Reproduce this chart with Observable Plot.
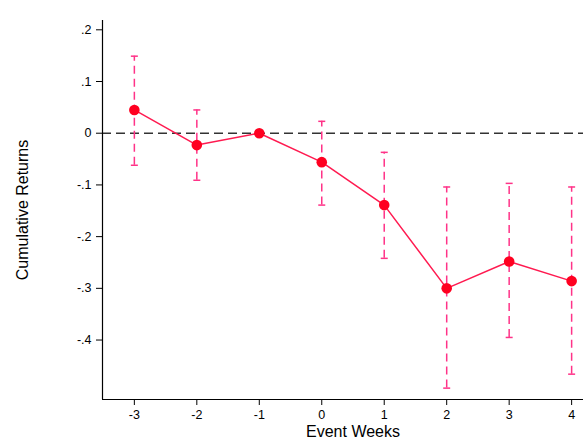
<!DOCTYPE html>
<html>
<head>
<meta charset="utf-8">
<script src="https://cdn.jsdelivr.net/npm/d3@7"></script>
<script src="https://cdn.jsdelivr.net/npm/@observablehq/plot@0.6"></script>
<style>
  body { margin: 0; background: #fff; }
  #chart svg { font-family: "Liberation Sans", Arial, sans-serif; display: block; }
</style>
</head>
<body>
<div id="chart"></div>
<script>
const weeks = [-3, -2, -1, 0, 1, 2, 3, 4];
const returns = [0.045, -0.023, 0.0, -0.056, -0.139, -0.300, -0.248, -0.286];
const upper = [0.149, 0.045, null, 0.023, -0.037, -0.104, -0.097, -0.104];
const lower = [-0.062, -0.091, null, -0.139, -0.242, -0.493, -0.395, -0.466];
const yTicks = [0.2, 0.1, 0, -0.1, -0.2, -0.3, -0.4];
const xDomain = [-3.51, 4.19];
const yDomain = [-0.515, 0.218];

const data = weeks.map((w, i) => ({week: w, ret: returns[i], hi: upper[i], lo: lower[i]}));
const ci = data.filter(d => d.hi !== null);
const capHalf = 0.056;
const fmt = d => d === 0 ? "0" : d3.format(".1f")(d).replace("\u2212", "-").replace("0.", ".");

const pink = "#ff3388";
const lineColor = "#ff1a50";
const dotColor = "#ff0020";

const chart = Plot.plot({
  width: 585,
  height: 445,
  marginLeft: 102,
  marginRight: 2,
  marginTop: 20,
  marginBottom: 46,
  style: {fontFamily: "Liberation Sans, Arial, sans-serif", fontSize: "12.5px", color: "#000"},
  x: {domain: xDomain, ticks: weeks, tickFormat: d => String(d), label: "Event Weeks", labelAnchor: "center", labelOffset: 37, tickSize: 6, tickPadding: 5},
  y: {domain: yDomain, ticks: yTicks, tickFormat: fmt, label: "Cumulative Returns", labelAnchor: "center", labelOffset: 86, tickSize: 6, tickPadding: 5},
  marks: [
    Plot.ruleY([0], {stroke: "#333", strokeWidth: 1.6, strokeDasharray: "9,5"}),
    Plot.ruleX(ci, {x: "week", y1: "lo", y2: "hi", stroke: pink, strokeWidth: 1.5, strokeDasharray: "8,5"}),
    Plot.link(ci, {x1: d => d.week - capHalf, x2: d => d.week + capHalf, y1: "hi", y2: "hi", stroke: pink, strokeWidth: 1.5}),
    Plot.link(ci, {x1: d => d.week - capHalf, x2: d => d.week + capHalf, y1: "lo", y2: "lo", stroke: pink, strokeWidth: 1.5}),
    Plot.line(data, {x: "week", y: "ret", stroke: lineColor, strokeWidth: 1.5}),
    Plot.dot(data, {x: "week", y: "ret", r: 5.3, fill: dotColor, stroke: "none"}),
    Plot.ruleX([xDomain[0]], {stroke: "#000", strokeWidth: 1.2}),
    Plot.ruleY([yDomain[0]], {stroke: "#000", strokeWidth: 1.2})
  ]
});
chart.querySelectorAll('[aria-label="x-axis label"] text, [aria-label="y-axis label"] text').forEach(t => {
  t.style.fontSize = "16px";
  t.textContent = t.textContent.replace(/\s*[\u2192\u2191\u2190\u2193]\s*/g, "").trim();
});
chart.querySelectorAll('[aria-label="x-axis label"] text').forEach(t => t.setAttribute("dx", "10"));
document.getElementById("chart").appendChild(chart);
</script>
</body>
</html>
